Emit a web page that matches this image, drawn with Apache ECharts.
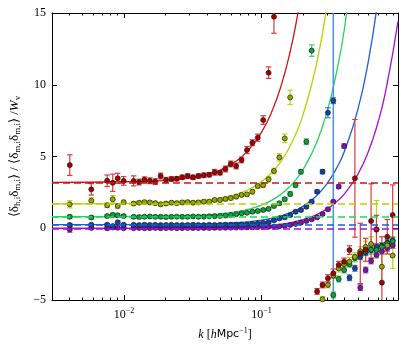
<!DOCTYPE html>
<html>
<head>
<meta charset="utf-8">
<script src="https://cdn.jsdelivr.net/npm/echarts/dist/echarts.min.js"></script>
<style>
html, body { margin: 0; padding: 0; background: #fff; }
#chart { width: 407px; height: 346px; }
</style>
</head>
<body>
<div id="chart"></div>
<script>
var chart = echarts.init(document.getElementById('chart'));

// k bins (h/Mpc)
var kVals = [0.00404, 0.00579, 0.00755, 0.00829, 0.00901, 0.00995,
  0.01176, 0.01288, 0.01409, 0.01542, 0.01688, 0.01847, 0.02021, 0.02213, 0.02422, 0.02651,
  0.02901, 0.03175, 0.03475, 0.03803, 0.04163, 0.04556, 0.04987, 0.05458, 0.05974, 0.06538,
  0.07156, 0.07832, 0.08572, 0.09382, 0.1027, 0.1124, 0.1230, 0.1346, 0.1473, 0.1613,
  0.1765, 0.1932, 0.2114, 0.2314, 0.2532, 0.2772, 0.3034, 0.3320, 0.3634, 0.3977,
  0.4353, 0.4764, 0.5214, 0.5707, 0.6246, 0.6836, 0.7484, 0.8191, 0.8966];

var redVals = [4.4, 2.71, 3.31, 3.17, 3.48, 3.3,
  3.3, 3.22, 3.38, 3.31, 3.25, 3.64, 3.36, 3.43, 3.45, 3.55,
  3.64, 3.55, 3.64, 3.69, 3.73, 3.90, 3.87, 4.13, 4.48, 4.34,
  4.76, 5.45, 5.96, 6.31, 7.54, 10.84, 14.74, null, null, null,
  null, null, null, null, -4.4, -3.95, -3.49, -3.14, -2.56, -2.33,
  -1.52, 3.48, -1.75, -1.5, 0.5, -0.1, -3.79, -0.59, 0.92];
var redErr = [0.72, 0.4, 0.4, 0.6, 0.35, 0.3,
  0.35, 0.2, 0.2, 0.2, 0.2, 0.2, 0.18, 0.15, 0.15, 0.15,
  0.15, 0.15, 0.15, 0.15, 0.15, 0.2, 0.15, 0.2, 0.2, 0.2,
  0.2, 0.25, 0.2, 0.25, 0.3, 0.4, 1.15, null, null, null,
  null, null, null, null, 0.2, 0.2, 0.25, 0.3, 0.25, 0.25,
  0.3, 4.1, 2.1, 0.8, 2.6, 1.0, 3.2, 1.2, 2.1];

var yelVals = [1.67, 1.92, 1.6, 2.02, 1.55, 1.81,
  1.72, 1.78, 1.82, 1.8, 1.75, 1.67, 1.72, 1.78, 1.75, 1.8,
  1.82, 1.78, 1.8, 1.85, 1.85, 1.97, 1.97, 2.04, 2.1, 2.2,
  2.32, 2.36, 2.55, 2.94, 3.0, 3.41, 3.99, 4.94, 6.26, 9.12,
  null, null, null, null, null, -4.95, -3.95, -3.3, -2.8, -2.5,
  -2.33, -2.0, -1.6, -1.3, -1.1, -0.07, -2.68, -1.2, -1.9];
var yelErr = [0.25, 0.2, 0.15, 0.25, 0.15, 0.15,
  0.12, 0.12, 0.12, 0.12, 0.12, 0.12, 0.12, 0.12, 0.12, 0.12,
  0.12, 0.12, 0.12, 0.12, 0.12, 0.12, 0.12, 0.12, 0.12, 0.12,
  0.12, 0.12, 0.15, 0.15, 0.15, 0.2, 0.2, 0.25, 0.3, 0.5,
  null, null, null, null, null, 0.2, 0.2, 0.2, 0.25, 0.25,
  0.3, 0.3, 0.3, 0.4, 0.5, 2.0, 1.0, 0.6, 0.9];

var grnVals = [0.8, 0.75, 0.85, 0.92, 0.9, 0.85,
  0.8, 0.78, 0.8, 0.82, 0.8, 0.8, 0.78, 0.8, 0.81, 0.8,
  0.8, 0.82, 0.8, 0.81, 0.83, 0.84, 0.85, 0.88, 0.92, 0.98,
  1.04, 1.08, 1.15, 1.2, 1.27, 1.35, 1.55, 1.74, 2.02, 2.39,
  3.01, 3.94, 6.03, 12.38, null, null, null, -4.65, -3.54, -2.91,
  -2.51, -2.09, -1.8, -1.6, -1.5, -1.52, -1.3, -1.05, -0.9];
var grnErr = [0.12, 0.1, 0.1, 0.15, 0.1, 0.1,
  0.08, 0.08, 0.08, 0.08, 0.08, 0.08, 0.08, 0.08, 0.08, 0.08,
  0.08, 0.08, 0.08, 0.08, 0.08, 0.08, 0.08, 0.08, 0.08, 0.08,
  0.08, 0.08, 0.1, 0.1, 0.1, 0.1, 0.12, 0.12, 0.12, 0.15,
  0.15, 0.15, 0.2, 0.4, null, null, null, 0.2, 0.2, 0.2,
  0.2, 0.25, 0.25, 0.25, 0.3, 0.3, 0.3, 0.3, 0.3];

var bluVals = [0.23, 0.25, 0.25, 0.15, 0.41, 0.25,
  0.24, 0.22, 0.25, 0.23, 0.24, 0.22, 0.23, 0.24, 0.23, 0.22,
  0.23, 0.24, 0.23, 0.22, 0.24, 0.23, 0.24, 0.25, 0.24, 0.25,
  0.26, 0.27, 0.3, 0.33, 0.37, 0.42, 0.55, 0.69, 0.76, 0.92,
  1.15, 1.27, 1.5, 1.85, 2.55, 3.94, 8.05, 8.89, null, null,
  -3.45, -2.79, -1.98, -1.7, -1.5, -1.3, -1.2, -1.0, -0.85];
var bluErr = [0.1, 0.08, 0.08, 0.1, 0.1, 0.08,
  0.07, 0.07, 0.07, 0.07, 0.07, 0.07, 0.07, 0.07, 0.07, 0.07,
  0.07, 0.07, 0.07, 0.07, 0.07, 0.07, 0.07, 0.07, 0.07, 0.07,
  0.07, 0.07, 0.07, 0.08, 0.08, 0.08, 0.08, 0.1, 0.1, 0.1,
  0.1, 0.1, 0.1, 0.12, 0.12, 0.15, 0.35, 0.2, null, null,
  0.2, 0.2, 0.2, 0.2, 0.2, 0.2, 0.2, 0.2, 0.2];

var purVals = [-0.08, 0.02, 0.0, 0.05, 0.03, 0.0,
  0.0, 0.02, 0.0, 0.01, 0.02, 0.0, 0.01, 0.02, 0.0, 0.01,
  0.01, 0.02, 0.01, 0.02, 0.02, 0.03, 0.03, 0.04, 0.04, 0.05,
  0.05, 0.06, 0.07, 0.08, 0.09, 0.1, 0.11, 0.13, 0.16, 0.23,
  0.3, 0.39, 0.5, 0.62, 0.76, 0.99, 1.32, 1.85, 2.9, 5.73,
  null, null, -4.14, -2.91, -2.28, -1.86, -1.6, -1.4, -1.2];
var purErr = [0.2, 0.1, 0.1, 0.1, 0.08, 0.08,
  0.06, 0.06, 0.06, 0.06, 0.06, 0.06, 0.06, 0.06, 0.06, 0.06,
  0.06, 0.06, 0.06, 0.06, 0.06, 0.06, 0.06, 0.06, 0.06, 0.06,
  0.06, 0.06, 0.06, 0.06, 0.06, 0.06, 0.06, 0.06, 0.06, 0.06,
  0.06, 0.06, 0.06, 0.08, 0.08, 0.08, 0.1, 0.1, 0.12, 0.15,
  null, null, 0.2, 0.2, 0.2, 0.2, 0.2, 0.2, 0.2];

// model curves
var curveK = [0.003, 0.01, 0.02, 0.04, 0.06, 0.08, 0.1, 0.12, 0.14, 0.16, 0.18, 0.2,
  0.25, 0.3, 0.35, 0.4, 0.5, 0.6, 0.7, 0.8, 0.98];
var redCurve = [3.2, 3.24, 3.34, 3.76, 4.46, 5.44, 6.7, 8.24, 10.06, 12.16, 14.54, 17.2,
  null, null, null, null, null, null, null, null, null];
var yelCurve = [1.7, 1.72, 1.76, 1.95, 2.26, 2.69, 3.25, 3.93, 4.74, 5.67, 6.72, 7.9,
  11.39, 15.65, null, null, null, null, null, null, null];
var grnCurve = [0.8, 0.81, 0.83, 0.93, 1.1, 1.32, 1.62, 1.98, 2.41, 2.9, 3.46, 4.08,
  5.93, 8.18, 10.85, 13.92, 21.3, null, null, null, null];
var bluCurve = [0.25, 0.25, 0.26, 0.3, 0.37, 0.45, 0.57, 0.71, 0.88, 1.07, 1.29, 1.53,
  2.25, 3.13, 4.17, 5.37, 8.25, 11.77, 15.93, null, null];
var purCurve = [0, 0, 0.01, 0.02, 0.05, 0.1, 0.15, 0.22, 0.29, 0.38, 0.49, 0.6,
  0.94, 1.35, 1.84, 2.4, 3.75, 5.4, 7.35, 9.6, 14.41];

// large-scale limits (dashed)
var levels = { red: 3.2, yel: 1.7, grn: 0.8, blu: 0.25, pur: 0.0 };
var kCut = 0.332;

var majorTicks = [0.01, 0.1];
var minorTicks = [0.003, 0.004, 0.005, 0.006, 0.007, 0.008, 0.009,
  0.02, 0.03, 0.04, 0.05, 0.06, 0.07, 0.08, 0.09,
  0.2, 0.3, 0.4, 0.5, 0.6, 0.7, 0.8, 0.9];

var SERIF = 'Liberation Serif';

function pairs(xs, ys) {
  var out = [];
  for (var i = 0; i < xs.length; i++) if (ys[i] != null) out.push([xs[i], ys[i]]);
  return out;
}
function triples(xs, ys, es) {
  var out = [];
  for (var i = 0; i < xs.length; i++) if (ys[i] != null) out.push([xs[i], ys[i], es[i]]);
  return out;
}

function errBars(color) {
  return function (params, api) {
    var k = api.value(0), v = api.value(1), e = api.value(2);
    var hi = api.coord([k, v + e]), lo = api.coord([k, v - e]);
    var w = 2.7;
    var st = { stroke: color, lineWidth: 1.2 };
    return {
      type: 'group',
      children: [
        { type: 'line', shape: { x1: hi[0], y1: hi[1], x2: lo[0], y2: lo[1] }, style: st },
        { type: 'line', shape: { x1: hi[0] - w, y1: hi[1], x2: hi[0] + w, y2: hi[1] }, style: st },
        { type: 'line', shape: { x1: lo[0] - w, y1: lo[1], x2: lo[0] + w, y2: lo[1] }, style: st }
      ]
    };
  };
}

var groups = [
  { vals: purVals, err: purErr, curve: purCurve, level: levels.pur, line: '#a50fd8', fill: '#8410b4', bar: '#b040e0' },
  { vals: bluVals, err: bluErr, curve: bluCurve, level: levels.blu, line: '#1a5fd8', fill: '#1544a8', bar: '#3f78e0' },
  { vals: grnVals, err: grnErr, curve: grnCurve, level: levels.grn, line: '#22d65a', fill: '#12a040', bar: '#36d06a' },
  { vals: yelVals, err: yelErr, curve: yelCurve, level: levels.yel, line: '#b8d200', fill: '#94a800', bar: '#bcd41e' },
  { vals: redVals, err: redErr, curve: redCurve, level: levels.red, line: '#d01515', fill: '#a80000', bar: '#dc3a3a' }
];

var series = [];
groups.forEach(function (g) {
  series.push({
    type: 'line', data: pairs(curveK, g.curve), smooth: true, showSymbol: false,
    lineStyle: { color: g.line, width: 1.3 }, z: 2,
    markLine: {
      silent: true, symbol: 'none', label: { show: false },
      lineStyle: { color: g.line, width: 1.5, type: [7, 4] },
      data: [{ yAxis: g.level }]
    }
  });
});
series.push({
  type: 'line', data: [[kCut, -5], [kCut, 15]], showSymbol: false,
  lineStyle: { color: '#4a8fe0', width: 1.5 }, z: 2
});
groups.forEach(function (g) {
  series.push({
    type: 'custom', renderItem: errBars(g.bar), clip: true,
    data: triples(kVals, g.vals, g.err), encode: { x: 0, y: 1 }, z: 3
  });
  series.push({
    type: 'scatter', data: pairs(kVals, g.vals), symbolSize: 5, clip: true,
    itemStyle: { color: g.fill, borderColor: '#1a1a1a', borderWidth: 0.7, opacity: 1 }, z: 4
  });
});

function xAx(pos, ticks, len, withLine, withLabels) {
  var ax = {
    type: 'log', position: pos, min: 0.003, max: 0.98,
    axisLine: { show: withLine, onZero: false, lineStyle: { color: '#000', width: 1 } },
    axisTick: { show: true, inside: true, length: len, customValues: ticks, lineStyle: { color: '#000', width: 1 } },
    axisLabel: { show: false },
    splitLine: { show: false }, minorTick: { show: false }
  };
  if (withLabels) {
    ax.axisLabel = {
      show: true, customValues: majorTicks, margin: 7,
      fontFamily: SERIF, fontSize: 12, color: '#000',
      formatter: function (v) { return '10{sup|\u2212' + Math.abs(Math.round(Math.log10(v))) + '}'; },
      rich: { sup: { fontFamily: SERIF, fontSize: 8, padding: [0, 0, 7, 0] } }
    };
    ax.name = '{i|k} [{i|h}{s|Mpc}{sup|\u22121}]';
    ax.nameLocation = 'middle';
    ax.nameGap = 27;
    ax.nameTextStyle = {
      fontFamily: SERIF, fontSize: 12, color: '#000',
      rich: {
        i: { fontFamily: SERIF, fontStyle: 'italic', fontSize: 12 },
        s: { fontFamily: 'DejaVu Sans', fontSize: 11 },
        sup: { fontFamily: SERIF, fontSize: 8, padding: [0, 0, 7, 0] }
      }
    };
  }
  return ax;
}

var option = {
  animation: false,
  backgroundColor: '#fff',
  grid: { left: 48, right: 9, top: 13, bottom: 46 },
  xAxis: [
    xAx('bottom', majorTicks, 5, true, true),
    xAx('bottom', minorTicks, 2.5, false, false),
    xAx('top', majorTicks, 5, true, false),
    xAx('top', minorTicks, 2.5, false, false)
  ],
  yAxis: [
    {
      type: 'value', position: 'left', min: -5, max: 15, interval: 5,
      axisLine: { show: true, onZero: false, lineStyle: { color: '#000', width: 1 } },
      axisTick: { inside: true, length: 5, lineStyle: { color: '#000' } },
      axisLabel: {
        fontFamily: SERIF, fontSize: 12, color: '#000', margin: 6,
        formatter: function (v) { return v < 0 ? '\u2212' + Math.abs(v) : String(v); }
      },
      splitLine: { show: false },
      name: '\u27e8\u03b4{sub|h,i}\u03b4{sub|m,i}\u27e9 / \u27e8\u03b4{sub|m,i}\u03b4{sub|m,i}\u27e9 /{it|W}{sub|v}',
      nameLocation: 'middle', nameRotate: 90, nameGap: 30,
      nameTextStyle: {
        fontFamily: SERIF, fontSize: 13, color: '#000',
        rich: {
          sub: { fontFamily: SERIF, fontSize: 9, padding: [6, 0, 0, 0] },
          it: { fontFamily: SERIF, fontStyle: 'italic', fontSize: 13 }
        }
      }
    },
    {
      type: 'value', position: 'right', min: -5, max: 15, interval: 5,
      axisLine: { show: true, onZero: false, lineStyle: { color: '#000', width: 1 } },
      axisTick: { inside: true, length: 5, lineStyle: { color: '#000' } },
      axisLabel: { show: false },
      splitLine: { show: false }
    }
  ],
  series: series
};

chart.setOption(option);
window.onresize = chart.resize;
</script>
</body>
</html>
